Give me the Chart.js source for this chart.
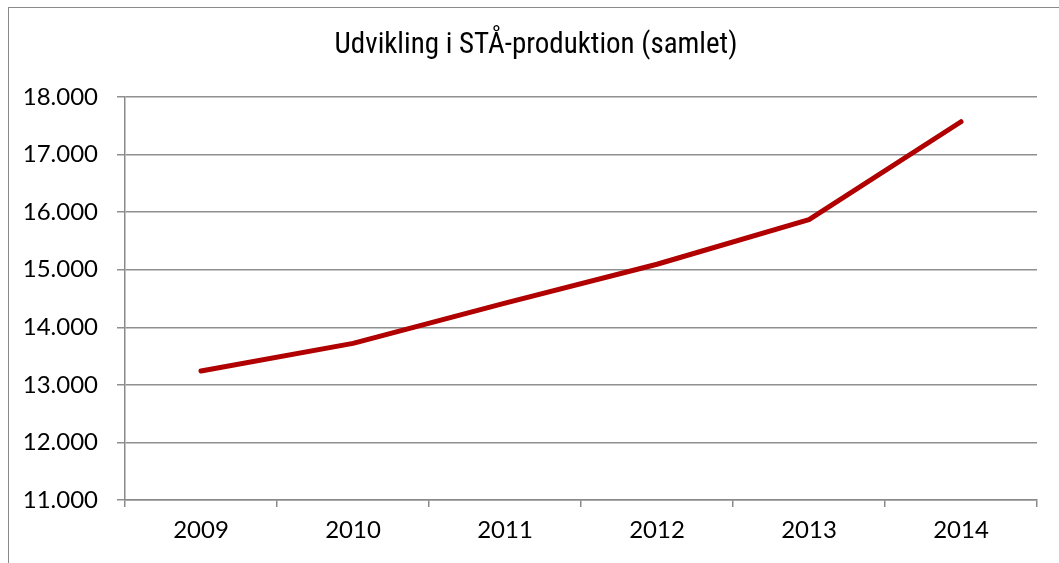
<!DOCTYPE html>
<html>
<head>
<meta charset="utf-8">
<script src="https://cdn.jsdelivr.net/npm/chart.js@4.4.1/dist/chart.umd.min.js"></script>
<style>
  html, body { margin: 0; padding: 0; background: #fff; }
  #wrap { position: relative; width: 1059px; height: 563px; overflow: hidden; }
  #frame { position: absolute; left: 8px; top: 7px; width: 1100px; height: 600px; border: 1px solid #8a8a8a; box-sizing: border-box; }
  canvas { position: absolute; left: 0; top: 0; }
</style>
</head>
<body>
<div id="wrap">
  <div id="frame"></div>
  <canvas id="c" width="1059" height="563"></canvas>
</div>
<script>
const titleText = 'Udvikling i STÅ-produktion (samlet)';
const categories = ['2009', '2010', '2011', '2012', '2013', '2014'];
const productionValues = [13240, 13720, 14420, 15095, 15870, 17570];
const yTicks = [11000, 12000, 13000, 14000, 15000, 16000, 17000, 18000];

const tickFont = { family: 'Lato, "Open Sans", "Liberation Sans", sans-serif', size: 24 };

const titlePlugin = {
  id: 'titleText',
  afterDraw(chart) {
    const ctx = chart.ctx;
    ctx.save();
    ctx.font = '29px "Roboto Condensed", "Liberation Sans Narrow", "DejaVu Sans Condensed", Roboto, sans-serif';
    ctx.fillStyle = '#000';
    ctx.textAlign = 'center';
    ctx.textBaseline = 'middle';
    ctx.fillText(titleText, 536, 46);
    ctx.restore();
  }
};

new Chart(document.getElementById('c'), {
  type: 'line',
  data: {
    labels: categories,
    datasets: [{
      data: productionValues,
      borderColor: '#B00000',
      borderWidth: 5,
      borderCapStyle: 'round',
      borderJoinStyle: 'round',
      pointRadius: 0,
      tension: 0,
      fill: false
    }]
  },
  options: {
    responsive: false,
    animation: false,
    devicePixelRatio: 1,
    layout: { padding: { top: 97, right: 22, left: 0, bottom: 0 } },
    plugins: { legend: { display: false }, title: { display: false }, tooltip: { enabled: false } },
    scales: {
      x: {
        offset: true,
        afterFit(s) { s.height = 63; },
        grid: {
          offset: true,
          drawOnChartArea: false,
          drawTicks: true,
          tickLength: 7,
          color: '#8a8a8a',
          lineWidth: 1.5
        },
        border: { color: '#8a8a8a', width: 1.5 },
        ticks: { color: '#000', font: tickFont, padding: 9, maxRotation: 0 }
      },
      y: {
        min: 11000,
        max: 18000,
        afterFit(s) { s.width = 125; },
        afterBuildTicks(s) { s.ticks = yTicks.map(v => ({ value: v })); },
        grid: { color: '#8f8f8f', lineWidth: 1.5, tickLength: 8 },
        border: { color: '#8a8a8a', width: 1.5 },
        ticks: {
          color: '#000',
          font: tickFont,
          padding: 19,
          callback: v => v.toLocaleString('da-DK', { minimumFractionDigits: 0 }).replace(/,/g, '.')
        }
      }
    }
  },
  plugins: [titlePlugin]
});
</script>
</body>
</html>
